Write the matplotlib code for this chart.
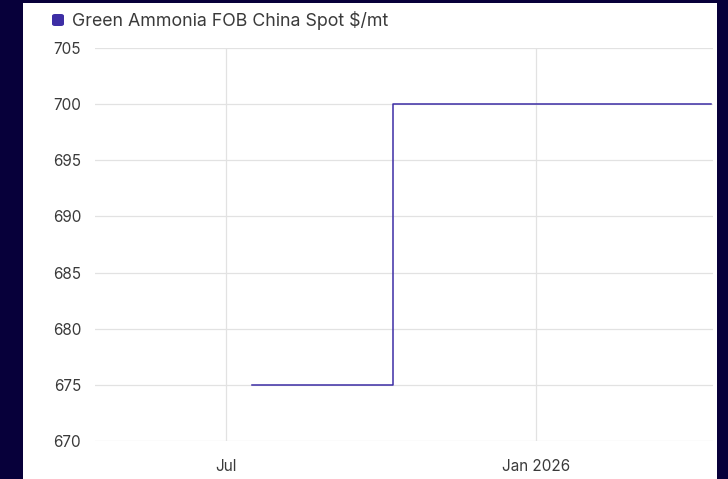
import matplotlib.pyplot as plt
import pandas as pd
from matplotlib.patches import Rectangle, FancyBboxPatch

# Serie: Green Ammonia FOB China Spot $/mt
datas = pd.to_datetime(['2025-07-16', '2025-10-08', '2026-04-15'])
valores = [675, 700, 700]
titulo_serie = 'Green Ammonia FOB China Spot $/mt'
yticks = [670, 675, 680, 685, 690, 695, 700, 705]
xticks = pd.to_datetime(['2025-07-01', '2026-01-01'])
xlabels = ['Jul', 'Jan 2026']

FUNDO = '#07003a'
COR_LINHA = '#3d2ea5'
COR_TEXTO = '#3a3a3a'
COR_GRADE = '#e2e2e2'

plt.rcParams['font.family'] = ['Inter', 'DejaVu Sans']

fig = plt.figure(figsize=(7.28, 4.79), dpi=100)
fig.patch.set_facecolor(FUNDO)

# painel branco (atras dos eixos)
fig.add_artist(Rectangle((23 / 728, 0), (717 - 23) / 728, 1 - 3 / 479,
                         transform=fig.transFigure, facecolor='white',
                         edgecolor='none', zorder=-5))
# faixa escura na direita
fig.add_artist(Rectangle((717 / 728, 0), 11 / 728, 1,
                         transform=fig.transFigure, facecolor=FUNDO,
                         edgecolor='none', zorder=10))

ax = fig.add_axes([95 / 728, 1 - 441 / 479, (713 - 95) / 728, (441 - 48) / 479])
ax.set_facecolor('white')

ax.step(datas, valores, where='post', color=COR_LINHA, linewidth=1.1, zorder=3)

ax.set_ylim(670, 705)
ax.set_yticks(yticks)
ax.set_xlim(pd.Timestamp('2025-04-14'), pd.Timestamp('2026-04-16'))
ax.set_xticks(xticks)
ax.set_xticklabels(xlabels)

ax.grid(True, color=COR_GRADE, linewidth=0.9)
ax.set_axisbelow(True)
for s in ax.spines.values():
    s.set_visible(False)
ax.tick_params(axis='both', length=0, labelsize=11, colors=COR_TEXTO)
ax.tick_params(axis='y', pad=10)
ax.tick_params(axis='x', pad=13)

# legenda
fig.add_artist(FancyBboxPatch((52 / 728, 1 - 26 / 479), 12 / 728, 12 / 479,
                              boxstyle='round,pad=0,rounding_size=0.004',
                              transform=fig.transFigure, facecolor=COR_LINHA,
                              edgecolor='none', zorder=5))
fig.text(72 / 728, 1 - 20 / 479, titulo_serie, fontsize=12.8, color=COR_TEXTO,
         va='center', ha='left')

fig.savefig('out.png', dpi=100, facecolor=FUNDO)
